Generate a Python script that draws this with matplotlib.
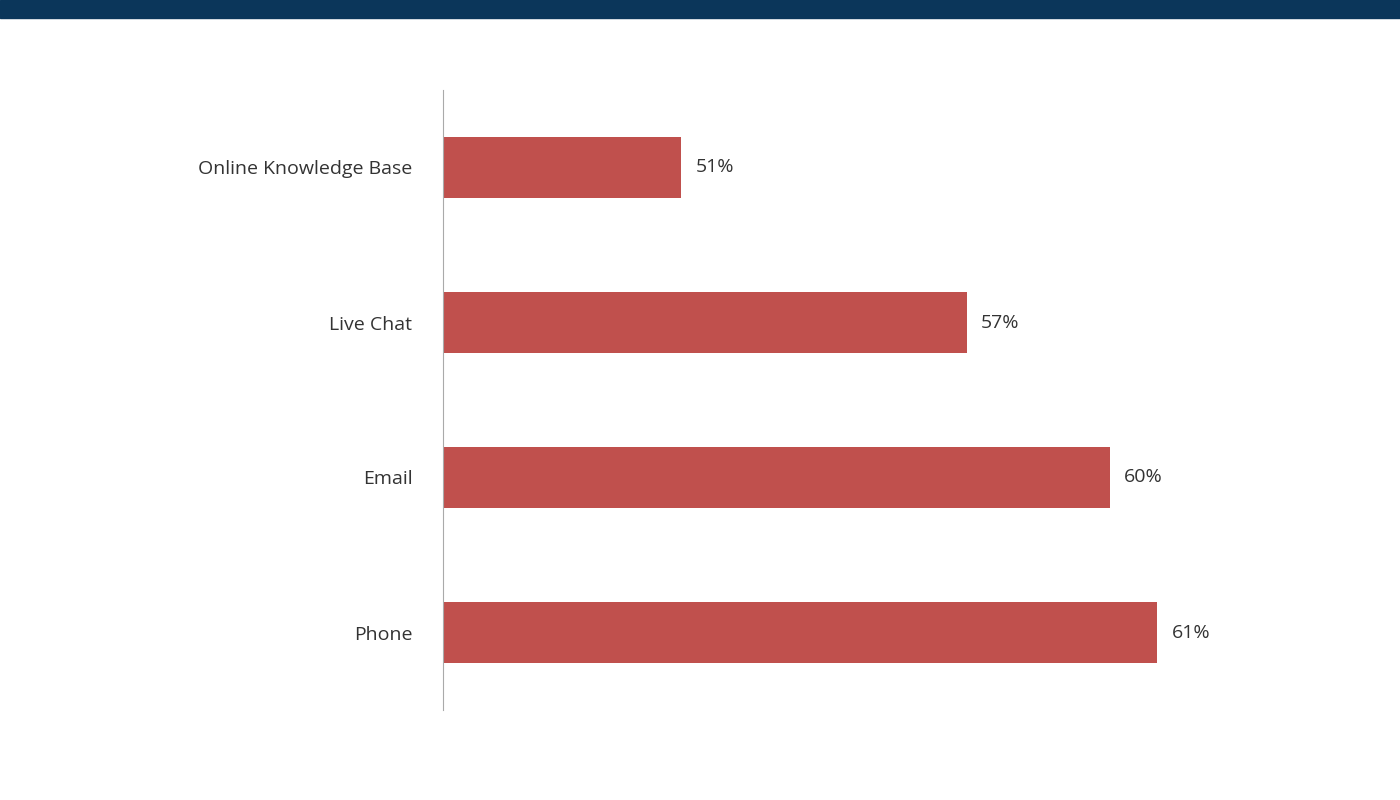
import matplotlib
matplotlib.use("Agg")
import matplotlib.pyplot as plt
from matplotlib.patches import Rectangle

categories = ["Online Knowledge Base", "Live Chat", "Email", "Phone"]
values = [51, 57, 60, 61]
labels = ["51%", "57%", "60%", "61%"]

plt.rcParams['font.family'] = ['Open Sans', 'DejaVu Sans']
fig = plt.figure(figsize=(14, 8), dpi=100)
fig.patches.append(Rectangle((0, 1 - 18/800), 1, 18/800, transform=fig.transFigure,
                             color="#0b365a", zorder=0))
ax = fig.add_axes([443/1400, 90/800, 857/1400, 620/800])
ypos = list(range(len(categories)))
ax.barh(ypos, values, left=0, height=0.39, color="#c0504d")
ax.set_xlim(46, 64)
ax.set_ylim(3.5, -0.5)
ax.set_yticks(ypos)
ax.set_yticklabels(categories, fontsize=14, color="#333333")
ax.tick_params(axis='y', length=0, pad=22)
ax.set_xticks([])
for s in ["top", "right", "bottom"]:
    ax.spines[s].set_visible(False)
ax.spines["left"].set_color("#aaaaaa")
for y, v, l in zip(ypos, values, labels):
    ax.text(v + 0.3, y, l, va="center", ha="left", fontsize=14, color="#333333")
fig.savefig("out.png", dpi=100)
